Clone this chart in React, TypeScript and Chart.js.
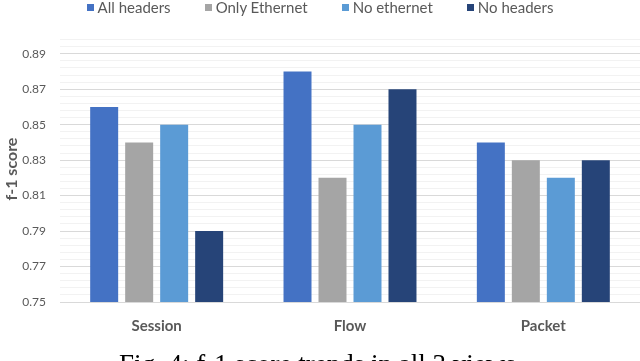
import React, { useEffect, useRef } from "react";
import { Chart, registerables } from "chart.js";

Chart.register(...registerables);

const categories = ["Session", "Flow", "Packet"];
const seriesNames = ["All headers", "Only Ethernet", "No ethernet", "No headers"];
const allHeaders = [0.86, 0.88, 0.84];
const onlyEthernet = [0.84, 0.82, 0.83];
const noEthernet = [0.85, 0.85, 0.82];
const noHeaders = [0.79, 0.87, 0.83];
const seriesColors = ["#4472C4", "#A5A5A5", "#5B9BD5", "#264478"];
const yMin = 0.75;
const yMax = 0.9;
const majorStep = 0.02;
const minorStep = 0.004;
const yTitle = "f-1 score";
const caption = "Fig. 4: f-1 score trends in all 3 views";

const TEXT = "#595959";
const FONT = "Lato, 'Open Sans', sans-serif";

export default function App() {
  const ref = useRef<HTMLCanvasElement>(null);

  useEffect(() => {
    if (!ref.current) return;
    const values = [allHeaders, onlyEthernet, noEthernet, noHeaders];
    const chart = new Chart(ref.current, {
      type: "bar",
      data: {
        labels: categories,
        datasets: seriesNames.map((name, i) => ({
          label: name,
          data: values[i],
          backgroundColor: seriesColors[i],
          borderWidth: 0,
          categoryPercentage: 0.724,
          barPercentage: 0.8,
        })),
      },
      options: {
        responsive: false,
        animation: false,
        layout: { padding: { top: 36, left: 0, right: 0, bottom: 0 } },
        plugins: {
          legend: { display: false },
          tooltip: { enabled: false },
        },
        scales: {
          x: {
            grid: { display: false },
            border: { display: true, color: "#d9d9d9", width: 1 },
            ticks: {
              color: TEXT,
              padding: 7,
              font: { family: FONT, size: 15, weight: "bold" },
            },
            afterFit: (scale: any) => {
              scale.height = 59;
            },
          },
          y: {
            min: yMin,
            max: yMax,
            afterBuildTicks: (scale: any) => {
              const n = Math.round((yMax - yMin) / minorStep);
              const ticks: any[] = [];
              for (let i = 0; i < n; i++) {
                ticks.push({ value: +(yMin + i * minorStep).toFixed(4) });
              }
              scale.ticks = ticks;
            },
            afterFit: (scale: any) => {
              scale.width = 60;
            },
            border: { display: false },
            grid: {
              drawTicks: false,
              lineWidth: 1,
              color: (ctx: any) => {
                const v = ctx.tick ? ctx.tick.value : 0;
                const k = (v - yMin) / majorStep;
                return Math.abs(k - Math.round(k)) < 1e-6 ? "#d9d9d9" : "#f2f2f2";
              },
            },
            ticks: {
              autoSkip: false,
              padding: 14,
              color: TEXT,
              font: { family: FONT, size: 12 },
              callback: (value: any) => {
                const v = Number(value);
                const k = (v - yMin) / majorStep;
                return Math.abs(k - Math.round(k)) < 1e-6 ? v.toFixed(2) : "";
              },
            },
            title: {
              display: true,
              text: yTitle,
              color: TEXT,
              padding: { top: 2, bottom: 0 },
              font: { family: FONT, size: 16, weight: "bold" },
            },
          },
        },
      },
    });
    return () => chart.destroy();
  }, []);

  return (
    <div
      style={{
        position: "fixed",
        left: 0,
        top: 0,
        width: 640,
        height: 361,
        overflow: "hidden",
        background: "#fff",
      }}
    >
      <canvas ref={ref} width={640} height={361} style={{ position: "absolute", left: 0, top: 0 }} />
      <div
        style={{
          position: "absolute",
          top: -1,
          left: 0,
          width: 640,
          height: 17,
          display: "flex",
          justifyContent: "center",
          alignItems: "center",
          gap: 34,
          fontFamily: FONT,
          fontSize: 15,
          lineHeight: "17px",
          color: TEXT,
          whiteSpace: "nowrap",
        }}
      >
        {seriesNames.map((name, i) => (
          <div key={name} style={{ display: "flex", alignItems: "center" }}>
            <span
              style={{
                display: "inline-block",
                width: 7,
                height: 7,
                background: seriesColors[i],
                marginRight: 4,
              }}
            />
            <span>{name}</span>
          </div>
        ))}
      </div>
      <div
        style={{
          position: "absolute",
          left: 119,
          top: 351,
          fontFamily: "'Liberation Serif', 'Times New Roman', serif",
          fontSize: 27,
          lineHeight: "27px",
          color: "#000",
          whiteSpace: "nowrap",
        }}
      >
        {caption}
      </div>
    </div>
  );
}
